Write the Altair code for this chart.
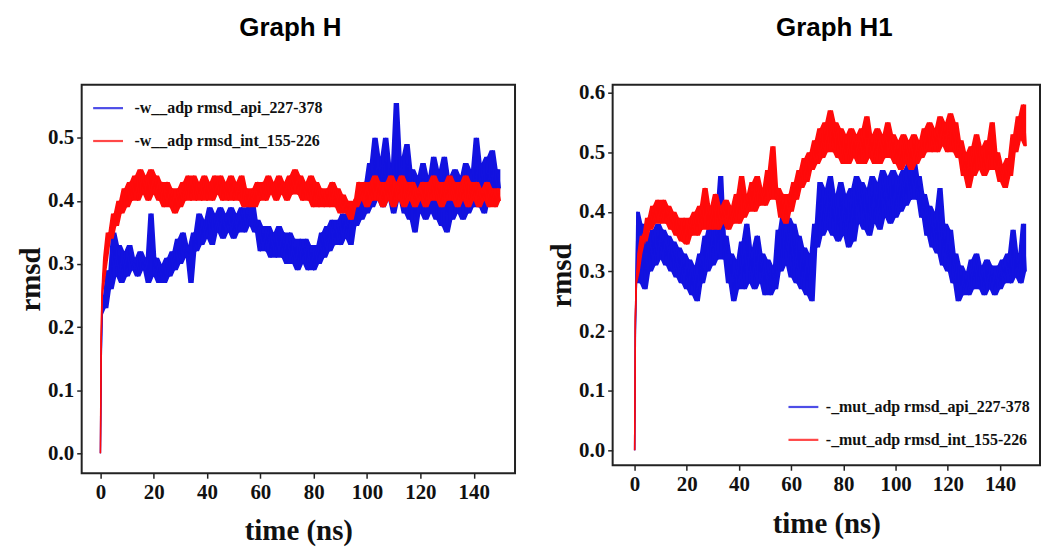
import altair as alt
import pandas as pd

# time axis (ns)
TIME = [0, 0.3, 0.6] + list(range(1, 151))

XTICKS = [0, 20, 40, 60, 80, 100, 120, 140]
YTICKS_H = [0.0, 0.1, 0.2, 0.3, 0.4, 0.5]
YTICKS_H1 = [0.0, 0.1, 0.2, 0.3, 0.4, 0.5, 0.6]

NAMES_H = ["-w__adp rmsd_api_227-378", "-w__adp rmsd_int_155-226"]
NAMES_H1 = ["-_mut_adp rmsd_api_227-378", "-_mut_adp rmsd_int_155-226"]

# Graph H, api (blue)
H_API = [0.00, 0.15, 0.22,
         0.25, 0.23, 0.29, 0.26, 0.35, 0.28, 0.33, 0.27, 0.32, 0.28,
         0.33, 0.29, 0.31, 0.28, 0.32, 0.29, 0.31, 0.27, 0.38, 0.28,
         0.31, 0.27, 0.30, 0.27, 0.31, 0.28, 0.32, 0.29, 0.34, 0.30,
         0.35, 0.31, 0.33, 0.27, 0.35, 0.32, 0.38, 0.33, 0.37, 0.34,
         0.39, 0.33, 0.38, 0.35, 0.39, 0.34, 0.38, 0.35, 0.39, 0.34,
         0.38, 0.35, 0.39, 0.35, 0.39, 0.36, 0.40, 0.35, 0.37, 0.32,
         0.36, 0.32, 0.36, 0.31, 0.35, 0.31, 0.36, 0.31, 0.35, 0.30,
         0.35, 0.30, 0.34, 0.29, 0.34, 0.30, 0.34, 0.29, 0.33, 0.29,
         0.33, 0.30, 0.35, 0.31, 0.36, 0.32, 0.37, 0.33, 0.37, 0.33,
         0.38, 0.34, 0.38, 0.33, 0.39, 0.36, 0.41, 0.37, 0.43, 0.38,
         0.46, 0.39, 0.50, 0.40, 0.47, 0.39, 0.50, 0.40, 0.46, 0.38,
         0.555, 0.40, 0.47, 0.38, 0.49, 0.37, 0.45, 0.35, 0.44, 0.38,
         0.46, 0.37, 0.44, 0.38, 0.47, 0.37, 0.45, 0.36, 0.47, 0.35,
         0.44, 0.37, 0.45, 0.38, 0.44, 0.37, 0.46, 0.38, 0.45, 0.39,
         0.50, 0.39, 0.46, 0.38, 0.47, 0.40, 0.48, 0.40, 0.45, 0.42]

# Graph H, int (red)
H_INT = [0.00, 0.18, 0.25,
         0.28, 0.31, 0.35, 0.34, 0.38, 0.36, 0.40, 0.38, 0.42, 0.39,
         0.43, 0.40, 0.44, 0.40, 0.45, 0.41, 0.44, 0.40, 0.45, 0.41,
         0.44, 0.40, 0.43, 0.39, 0.43, 0.39, 0.42, 0.38, 0.42, 0.39,
         0.43, 0.40, 0.44, 0.40, 0.44, 0.40, 0.43, 0.40, 0.44, 0.40,
         0.43, 0.40, 0.44, 0.41, 0.44, 0.40, 0.43, 0.40, 0.44, 0.40,
         0.43, 0.40, 0.44, 0.39, 0.42, 0.39, 0.42, 0.39, 0.43, 0.40,
         0.43, 0.40, 0.44, 0.41, 0.43, 0.40, 0.44, 0.41, 0.43, 0.40,
         0.44, 0.41, 0.45, 0.41, 0.44, 0.40, 0.43, 0.40, 0.44, 0.39,
         0.43, 0.39, 0.42, 0.39, 0.42, 0.39, 0.43, 0.39, 0.42, 0.38,
         0.41, 0.38, 0.40, 0.37, 0.40, 0.39, 0.43, 0.40, 0.43, 0.39,
         0.43, 0.40, 0.44, 0.40, 0.43, 0.39, 0.43, 0.40, 0.44, 0.39,
         0.43, 0.40, 0.44, 0.39, 0.43, 0.40, 0.43, 0.39, 0.42, 0.40,
         0.43, 0.39, 0.43, 0.40, 0.44, 0.40, 0.43, 0.39, 0.43, 0.40,
         0.44, 0.40, 0.43, 0.39, 0.43, 0.40, 0.44, 0.39, 0.43, 0.40,
         0.43, 0.39, 0.42, 0.40, 0.43, 0.39, 0.42, 0.39, 0.42, 0.40]

# Graph H1, api (blue)
H1_API = [0.00, 0.20, 0.30,
          0.40, 0.28, 0.38, 0.27, 0.36, 0.30, 0.37, 0.31, 0.38, 0.32,
          0.37, 0.31, 0.36, 0.30, 0.35, 0.29, 0.34, 0.28, 0.33, 0.27,
          0.32, 0.26, 0.31, 0.25, 0.33, 0.28, 0.36, 0.30, 0.38, 0.31,
          0.40, 0.32, 0.46, 0.32, 0.36, 0.28, 0.33, 0.25, 0.32, 0.27,
          0.35, 0.27, 0.38, 0.28, 0.34, 0.27, 0.36, 0.28, 0.33, 0.26,
          0.32, 0.26, 0.31, 0.27, 0.37, 0.30, 0.40, 0.31, 0.39, 0.29,
          0.38, 0.28, 0.36, 0.27, 0.34, 0.26, 0.33, 0.25, 0.38, 0.34,
          0.45, 0.36, 0.44, 0.37, 0.46, 0.36, 0.43, 0.35, 0.45, 0.36,
          0.43, 0.34, 0.44, 0.35, 0.46, 0.38, 0.45, 0.37, 0.44, 0.36,
          0.46, 0.38, 0.45, 0.37, 0.47, 0.39, 0.46, 0.38, 0.47, 0.39,
          0.46, 0.40, 0.47, 0.41, 0.48, 0.42, 0.49, 0.42, 0.46, 0.39,
          0.43, 0.36, 0.41, 0.34, 0.40, 0.33, 0.44, 0.31, 0.38, 0.30,
          0.37, 0.28, 0.33, 0.25, 0.31, 0.26, 0.30, 0.26, 0.32, 0.27,
          0.33, 0.27, 0.31, 0.26, 0.32, 0.27, 0.31, 0.26, 0.31, 0.27,
          0.32, 0.28, 0.33, 0.28, 0.37, 0.29, 0.33, 0.28, 0.38, 0.30]

# Graph H1, int (red)
H1_INT = [0.00, 0.22, 0.28,
          0.30, 0.33, 0.36, 0.35, 0.39, 0.37, 0.41, 0.38, 0.42, 0.38,
          0.42, 0.38, 0.41, 0.37, 0.40, 0.36, 0.39, 0.35, 0.39, 0.345,
          0.39, 0.36, 0.40, 0.36, 0.41, 0.37, 0.44, 0.37, 0.41, 0.37,
          0.43, 0.37, 0.41, 0.38, 0.42, 0.37, 0.41, 0.38, 0.43, 0.38,
          0.46, 0.39, 0.43, 0.40, 0.45, 0.40, 0.46, 0.41, 0.44, 0.41,
          0.47, 0.42, 0.51, 0.42, 0.44, 0.39, 0.43, 0.38, 0.43, 0.40,
          0.45, 0.42, 0.47, 0.44, 0.49, 0.45, 0.50, 0.47, 0.52, 0.48,
          0.54, 0.49, 0.55, 0.50, 0.57, 0.50, 0.55, 0.49, 0.54, 0.48,
          0.53, 0.48, 0.54, 0.49, 0.53, 0.48, 0.54, 0.48, 0.56, 0.49,
          0.53, 0.48, 0.54, 0.48, 0.53, 0.49, 0.55, 0.49, 0.53, 0.48,
          0.52, 0.47, 0.53, 0.48, 0.52, 0.47, 0.53, 0.48, 0.52, 0.49,
          0.54, 0.50, 0.55, 0.50, 0.54, 0.50, 0.56, 0.51, 0.55, 0.50,
          0.565, 0.50, 0.55, 0.49, 0.52, 0.46, 0.50, 0.44, 0.51, 0.46,
          0.53, 0.47, 0.51, 0.46, 0.52, 0.47, 0.55, 0.47, 0.50, 0.45,
          0.48, 0.44, 0.49, 0.46, 0.53, 0.50, 0.56, 0.52, 0.58, 0.51]

BLUE = "#1212e0"
RED = "#ff0a0a"
SERIF = "Liberation Serif"


def panel(blue, red, names, title, xdom, ydom, w, h, yticks,
          lx, ly, label_offset, title_offset, title_dx):
    n = len(TIME)
    df = pd.DataFrame({
        "time": TIME + TIME,
        "rmsd": blue + red,
        "series": [names[0]] * n + [names[1]] * n,
    })
    xenc = alt.X("time:Q",
                 scale=alt.Scale(domain=xdom, nice=False, zero=False),
                 axis=alt.Axis(values=XTICKS, title="time (ns)", titlePadding=15))
    yscale = alt.Scale(domain=ydom, nice=False, zero=False)
    yaxis = alt.Axis(values=yticks, format=".1f", title="rmsd", titlePadding=2)
    cenc = alt.Color("series:N",
                     scale=alt.Scale(domain=names, range=[BLUE, RED]),
                     legend=alt.Legend(title=None, orient="none",
                                       legendX=lx, legendY=ly,
                                       symbolType="stroke",
                                       symbolSize=900,
                                       symbolStrokeWidth=2.2,
                                       symbolOpacity=0.75,
                                       labelFont=SERIF,
                                       labelFontWeight="bold",
                                       labelFontSize=16,
                                       labelColor="#111",
                                       labelLimit=400,
                                       labelOffset=label_offset,
                                       rowPadding=8,
                                       padding=0))
    base = alt.Chart(df).transform_window(
        lo="min(rmsd)", hi="max(rmsd)", frame=[-1, 1],
        groupby=["series"], sort=[alt.SortField("time")],
    )
    layers = []
    for s in names:
        sub = base.transform_filter(alt.datum.series == s)
        layers.append(sub.mark_area(opacity=1, clip=True).encode(
            x=xenc, y=alt.Y("lo:Q", scale=yscale, axis=yaxis), y2="hi:Q",
            color=cenc))
        layers.append(sub.mark_line(strokeWidth=1.4, clip=True).encode(
            x=xenc, y=alt.Y("rmsd:Q", scale=yscale, axis=yaxis), color=cenc))
    return alt.layer(*layers).properties(
        width=w, height=h,
        title=alt.TitleParams(title, font="Liberation Sans", fontSize=26,
                              fontWeight="bold", color="#000",
                              anchor="middle", frame="group",
                              offset=title_offset, dx=title_dx),
    )


left = panel(H_API, H_INT, NAMES_H, "Graph H", [-7, 155.5], [-0.0315, 0.584],
             435, 390, YTICKS_H, 10, 7, 10, 44, -8)
right = panel(H1_API, H1_INT, NAMES_H1, "Graph H1", [-8.4, 155.3], [-0.025, 0.613],
              429, 382, YTICKS_H1, 175, 307, 6, 41, 8)

chart = alt.hconcat(left, right, spacing=30).resolve_scale(
    color="independent"
).resolve_legend(color="independent").properties(
    padding={"left": 15, "top": 12, "right": 0, "bottom": 0},
    background="white",
).configure_view(
    stroke="#222", strokeWidth=2
).configure_axis(
    labelFont=SERIF, labelFontWeight="bold", labelFontSize=21, labelColor="#111",
    titleFont=SERIF, titleFontWeight="bold", titleFontSize=29, titleColor="#111",
    tickColor="#222", tickSize=5, tickWidth=1.5, domain=False, grid=False,
    labelPadding=3,
)

chart.save("out.html", embed_options={"renderer": "svg", "actions": False})
